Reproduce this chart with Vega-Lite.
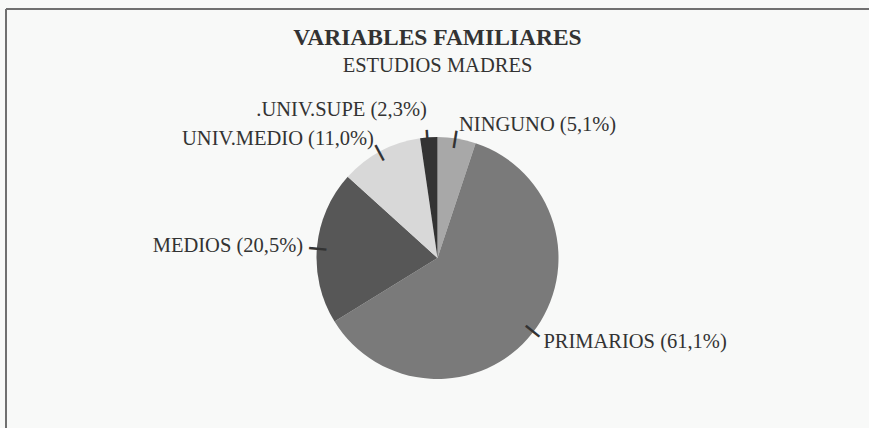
{
  "$schema": "https://vega.github.io/schema/vega-lite/v6.json",
  "width": 863,
  "height": 498,
  "autosize": {"type": "none"},
  "padding": {"left": 6, "top": 9, "right": 0, "bottom": 0},
  "background": "#f8f9f8",
  "view": {"stroke": null, "fill": "#f8f9f8"},
  "config": {
    "view": {"stroke": null},
    "font": "Liberation Serif"
  },
  "title": {
    "text": "VARIABLES FAMILIARES",
    "subtitle": "ESTUDIOS MADRES",
    "anchor": "middle",
    "offset": -68,
    "font": "Liberation Serif",
    "fontSize": 23.5,
    "fontWeight": "bold",
    "color": "#333333",
    "subtitleFont": "Liberation Serif",
    "subtitleFontSize": 20.5,
    "subtitleColor": "#333333",
    "subtitlePadding": 6
  },
  "data": {
    "values": [
      {"estudios": "NINGUNO", "pct": 5.1, "orden": 1, "etiqueta": "NINGUNO (5,1%)"},
      {"estudios": "PRIMARIOS", "pct": 61.1, "orden": 2, "etiqueta": "PRIMARIOS (61,1%)"},
      {"estudios": "MEDIOS", "pct": 20.5, "orden": 3, "etiqueta": "MEDIOS (20,5%)"},
      {"estudios": "UNIV.MEDIO", "pct": 11.0, "orden": 4, "etiqueta": "UNIV.MEDIO (11,0%)"},
      {"estudios": "UNIV.SUPE", "pct": 2.3, "orden": 5, "etiqueta": ".UNIV.SUPE (2,3%)"}
    ]
  },
  "layer": [
    {
      "data": {"values": [{"borde": "marco"}]},
      "mark": {"type": "rule", "color": "#707070", "strokeWidth": 2},
      "encoding": {"x": {"value": 0}}
    },
    {
      "data": {"values": [{"borde": "marco"}]},
      "mark": {"type": "rule", "color": "#707070", "strokeWidth": 2},
      "encoding": {"y": {"value": 0}}
    },
    {
      "mark": {"type": "arc", "outerRadius": 121, "stroke": null},
      "encoding": {
        "theta": {"field": "pct", "type": "quantitative", "stack": true},
        "order": {"field": "orden", "type": "quantitative"},
        "color": {
          "field": "estudios",
          "type": "nominal",
          "scale": {
            "domain": ["NINGUNO", "PRIMARIOS", "MEDIOS", "UNIV.MEDIO", "UNIV.SUPE"],
            "range": ["#a8a8a8", "#7a7a7a", "#575757", "#d8d8d8", "#333333"]
          },
          "legend": null
        }
      }
    },
    {
      "mark": {
        "type": "text",
        "radius": 120,
        "font": "DejaVu Sans",
        "fontSize": 28,
        "baseline": "middle",
        "align": "center",
        "color": "#333333",
        "angle": {"expr": "(datum.pct_start + datum.pct_end) / 2 * 3.6 - 90"}
      },
      "encoding": {
        "theta": {"field": "pct", "type": "quantitative", "stack": true},
        "order": {"field": "orden", "type": "quantitative"},
        "text": {"value": "─"}
      }
    },
    {
      "mark": {
        "type": "text",
        "radius": {"expr": "(datum.pct_start + datum.pct_end) / 2 > 95 ? 148 : 135"},
        "fontSize": 20.5,
        "baseline": "middle",
        "color": "#333333",
        "align": {"expr": "(datum.pct_start + datum.pct_end) / 2 < 50 ? 'left' : 'right'"}
      },
      "encoding": {
        "theta": {"field": "pct", "type": "quantitative", "stack": true},
        "order": {"field": "orden", "type": "quantitative"},
        "text": {"field": "etiqueta", "type": "nominal"}
      }
    }
  ]
}
